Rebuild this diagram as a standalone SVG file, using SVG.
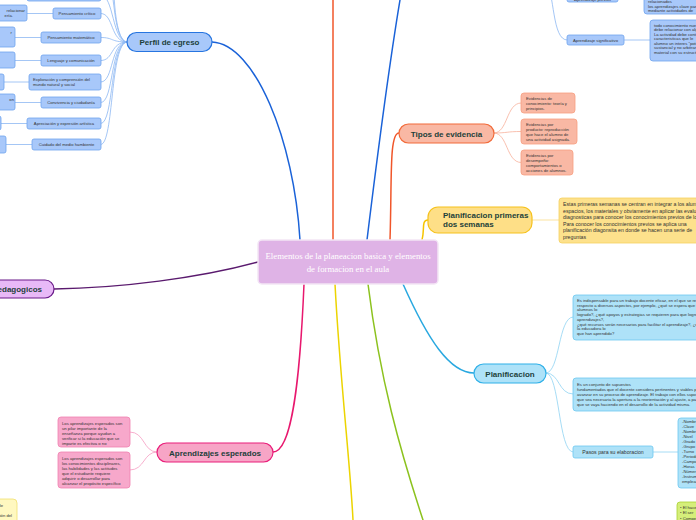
<svg xmlns="http://www.w3.org/2000/svg" width="696" height="520" viewBox="0 0 696 520">
<style>
.bg{fill:#ffffff}
.main{font-family:"Liberation Sans",Arial,sans-serif;font-weight:bold;font-size:8px;fill:#1d3f3a}
.sm{font-family:"Liberation Sans",Arial,sans-serif;font-size:4.2px;fill:#333333}
.md{font-family:"Liberation Sans",Arial,sans-serif;font-size:5.2px;fill:#333333}
.c{fill:none;stroke-linecap:round}
.blueN{fill:#a8c8fa;stroke:#2775e0;stroke-width:1.2}
.blueS{fill:#a8c8fa;stroke:#6fa3ee;stroke-width:0.8}
.blueC{stroke:#8db7f2;stroke-width:0.8}
.orN{fill:#f9b8a4;stroke:#f26b3a;stroke-width:1.2}
.orS{fill:#f9b8a4;stroke:#f8a080;stroke-width:0.8}
.orC{stroke:#f8b09a;stroke-width:0.8}
.yeN{fill:#fedf87;stroke:#f6c21d;stroke-width:1.2}
.yeS{fill:#fde18c;stroke:#f5d060;stroke-width:0.8}
.yeC{stroke:#fbe3a0;stroke-width:1}
.piN{fill:#f7a5c6;stroke:#e91e7a;stroke-width:1.2}
.piS{fill:#f7a8cb;stroke:#f080b0;stroke-width:0.8}
.piC{stroke:#f59cc2;stroke-width:0.8}
.cyN{fill:#aee2f8;stroke:#2fb0e8;stroke-width:1.2}
.cyS{fill:#aee2f8;stroke:#6cc8f0;stroke-width:0.8}
.cyC{stroke:#8fd3f3;stroke-width:0.8}
</style>
<rect class="bg" x="0" y="0" width="696" height="520"/>

<g id="connectors">
  <!-- main branches -->
  <path class="c" stroke="#1a62d8" stroke-width="1.5" d="M212,42 C255,44 294,140 300,240"/>
  <path class="c" stroke="#f0562a" stroke-width="1.5" d="M333,240 C333,160 333,80 333,0"/>
  <path class="c" stroke="#1a62d8" stroke-width="1.5" d="M367,240 C378,150 390,60 400,0"/>
  <path class="c" stroke="#f0562a" stroke-width="1.5" d="M390,240 C392,180 389,133 399,133"/>
  <path class="c" stroke="#f5c400" stroke-width="1.5" d="M422,240 C425,230 421,220 428,220"/>
  <path class="c" stroke="#5a1a6e" stroke-width="1.5" d="M258,262 C200,278 120,288 54,289"/>
  <path class="c" stroke="#e8186e" stroke-width="1.5" d="M304,284 C300,380 292,452 273,452"/>
  <path class="c" stroke="#ecd400" stroke-width="1.5" d="M335,284 C340,380 350,460 353,520"/>
  <path class="c" stroke="#8cc21e" stroke-width="1.5" d="M368,284 C380,380 400,450 423,520"/>
  <path class="c" stroke="#29a8e0" stroke-width="1.5" d="M403,284 C428,340 450,373 474,373"/>

  <!-- perfil children -->
  <path class="c blueC" d="M127,42 C112,42 114,-5 101,-5"/>
  <path class="c blueC" d="M127,42 C112,42 115,-20 108,-20"/>
  <path class="c blueC" d="M127,42 C112,42 114,-30 113,-30"/>
  <path class="c blueC" d="M127,42 C110,42 114,13.5 101,13.5"/>
  <path class="c blueC" d="M127,42 C110,42 114,37.5 101,37.5"/>
  <path class="c blueC" d="M127,42 C110,42 114,60.5 101,60.5"/>
  <path class="c blueC" d="M127,42 C110,42 114,82 101,82"/>
  <path class="c blueC" d="M127,42 C110,42 114,102.5 101,102.5"/>
  <path class="c blueC" d="M127,42 C110,42 114,123.5 101,123.5"/>
  <path class="c blueC" d="M127,42 C110,42 114,144.5 101,144.5"/>
  <!-- grandchildren -->
  <path class="c blueC" d="M27,13.5 L53,13.5"/>
  <path class="c blueC" d="M15,37.5 L41,37.5"/>
  <path class="c blueC" d="M15,60.5 L41,60.5"/>
  <path class="c blueC" d="M4,82 L29,82"/>
  <path class="c blueC" d="M15,102.5 L41,102.5"/>
  <path class="c blueC" d="M1,123.5 L27,123.5"/>
  <path class="c blueC" d="M6,144.5 L32,144.5"/>

  <!-- top right -->
  <path class="c blueC" d="M545,-25 C553,-10 552,-3 567,-3"/>
  <path class="c blueC" d="M545,-25 C555,-5 552,40 567,40"/>
  <path class="c blueC" d="M618,-3 L644,-3"/>
  <path class="c blueC" d="M624,40 L650,40"/>

  <!-- tipos children -->
  <path class="c orC" d="M494,133 C508,133 506,103 521,103"/>
  <path class="c orC" d="M494,133 C508,133 506,131.5 521,131.5"/>
  <path class="c orC" d="M494,133 C508,133 506,162.5 521,162.5"/>

  <!-- yellow child -->
  <path class="c yeC" d="M532,220 L559,220"/>

  <!-- planificacion children -->
  <path class="c cyC" d="M546,373 C560,373 558,317 573,317"/>
  <path class="c cyC" d="M546,373 C560,373 558,394 573,394"/>
  <path class="c cyC" d="M546,373 C560,373 558,452 573,452"/>
  <path class="c cyC" d="M653,452 L678,452"/>

  <!-- pink children -->
  <path class="c piC" d="M157,452 C143,452 145,432 130,432"/>
  <path class="c piC" d="M157,452 C143,452 145,470 130,470"/>
</g>

<g id="central">
  <rect x="258" y="240" width="180" height="44" rx="4" fill="#dfb3e6" stroke="#f3e6f5" stroke-width="1.5"/>
  <text x="348" y="259" text-anchor="middle" font-family="Liberation Serif,Times New Roman,serif" font-size="8.8" fill="#ffffff">Elementos de la planeacion basica y elementos</text>
  <text x="348" y="271.5" text-anchor="middle" font-family="Liberation Serif,Times New Roman,serif" font-size="8.8" fill="#ffffff">de formacion en el aula</text>
</g>

<g id="perfil-de-egreso">
  <rect class="blueN" x="127" y="32.5" width="85" height="19" rx="9.5"/>
  <text class="main" x="169.5" y="45" text-anchor="middle" font-size="8.2">Perfil de egreso</text>
</g>
<g id="perfil-top">
  <rect class="blueS" x="27" y="-12" width="74" height="13" rx="2"/>
</g>
<g id="pensamiento-critico">
  <rect class="blueS" x="53" y="8" width="48" height="11" rx="2"/>
  <text class="sm" x="77" y="15" text-anchor="middle">Pensamiento crítico</text>
</g>
<g id="pensamiento-matematico">
  <rect class="blueS" x="41" y="32" width="60" height="11" rx="2"/>
  <text class="sm" x="71" y="39" text-anchor="middle">Pensamiento matemático</text>
</g>
<g id="lenguaje">
  <rect class="blueS" x="41" y="55" width="60" height="11" rx="2"/>
  <text class="sm" x="71" y="62" text-anchor="middle">Lenguaje y comunicación</text>
</g>
<g id="exploracion">
  <rect class="blueS" x="29" y="74" width="72" height="16" rx="2"/>
  <text class="sm" x="33" y="80.5">Exploración y comprensión del</text>
  <text class="sm" x="33" y="85.5">mundo natural y social</text>
</g>
<g id="convivencia">
  <rect class="blueS" x="41" y="97" width="60" height="11" rx="2"/>
  <text class="sm" x="71" y="104" text-anchor="middle">Convivencia y ciudadanía</text>
</g>
<g id="apreciacion">
  <rect class="blueS" x="27" y="118" width="74" height="11" rx="2"/>
  <text class="sm" x="64" y="125" text-anchor="middle">Apreciación y expresión artística</text>
</g>
<g id="cuidado">
  <rect class="blueS" x="32" y="139" width="69" height="11" rx="2"/>
  <text class="sm" x="66.5" y="146" text-anchor="middle">Cuidado del medio hambiente</text>
</g>

<g id="gc1">
  <rect class="blueS" x="-60" y="5" width="87" height="16" rx="2"/>
  <text class="sm" x="25" y="12" text-anchor="end">relacionar</text>
  <text class="sm" x="13" y="17" text-anchor="end">ería.</text>
</g>
<g id="gc2">
  <rect class="blueS" x="-60" y="27" width="75" height="20" rx="2"/>
  <text class="sm" x="12" y="34" text-anchor="end">r</text>
</g>
<g id="gc3"><rect class="blueS" x="-60" y="52" width="75" height="16" rx="2"/></g>
<g id="gc4"><rect class="blueS" x="-60" y="74" width="64" height="16" rx="2"/></g>
<g id="gc5">
  <rect class="blueS" x="-60" y="94" width="75" height="16" rx="2"/>
  <text class="sm" x="14" y="101" text-anchor="end">on</text>
</g>
<g id="gc6"><rect class="blueS" x="-60" y="116" width="61" height="14" rx="2"/></g>
<g id="gc7"><rect class="blueS" x="-60" y="136" width="66" height="17" rx="2"/></g>

<g id="aprendizaje-previos">
  <rect class="blueS" x="567" y="-9" width="51" height="11" rx="2"/>
  <text class="sm" x="592.5" y="0.5" text-anchor="middle">Aprendizaje previos</text>
</g>
<g id="previos-detalle">
  <rect class="blueS" x="644" y="-20" width="70" height="34" rx="3"/>
  <text class="sm" x="648" y="3">relacionados</text>
  <text class="sm" x="648" y="7.5">los aprendizajes clave para</text>
  <text class="sm" x="648" y="12">mediante actividades de</text>
</g>
<g id="aprendizaje-significativo">
  <rect class="blueS" x="567" y="35" width="57" height="10" rx="2"/>
  <text class="sm" x="595.5" y="41.5" text-anchor="middle">Aprendizaje significativo</text>
</g>
<g id="significativo-detalle">
  <rect class="blueS" x="650" y="20" width="70" height="41" rx="3"/>
  <text class="sm" x="654" y="26.5">todo conocimiento nuevo se</text>
  <text class="sm" x="654" y="31">debe relacionar con algo</text>
  <text class="sm" x="654" y="35.5">La actividad debe contener</text>
  <text class="sm" x="654" y="40">caracteristicas que le</text>
  <text class="sm" x="654" y="44.5">alumno un interes "potencial"</text>
  <text class="sm" x="654" y="49">sustancial y no arbitrario</text>
  <text class="sm" x="654" y="53.5">material con su estructura</text>
</g>

<g id="tipos-de-evidencia">
  <rect class="orN" x="399" y="124" width="95" height="19" rx="9.5"/>
  <text class="main" x="446.5" y="136.5" text-anchor="middle">Tipos de evidencia</text>
</g>
<g id="evidencia-1">
  <rect class="orS" x="521" y="93" width="54" height="20" rx="3"/>
  <text class="sm" x="526" y="99.5">Evidencias de</text>
  <text class="sm" x="526" y="104.5">conocimiento: teoría y</text>
  <text class="sm" x="526" y="109.5">principios.</text>
</g>
<g id="evidencia-2">
  <rect class="orS" x="521" y="119" width="56" height="25" rx="3"/>
  <text class="sm" x="526" y="125.5">Evidencias por</text>
  <text class="sm" x="526" y="130.5">producto: reproducción</text>
  <text class="sm" x="526" y="135.5">que hace el alumno de</text>
  <text class="sm" x="526" y="140.5">una actividad asignada.</text>
</g>
<g id="evidencia-3">
  <rect class="orS" x="521" y="150" width="52" height="25" rx="3"/>
  <text class="sm" x="526" y="157">Evidencias por</text>
  <text class="sm" x="526" y="162">desempeño:</text>
  <text class="sm" x="526" y="167">comportamientos o</text>
  <text class="sm" x="526" y="172">acciones de alumnos.</text>
</g>

<g id="planificacion-primeras">
  <rect class="yeN" x="428" y="207" width="104" height="26" rx="10"/>
  <text class="main" x="443" y="218">Planificacion primeras</text>
  <text class="main" x="443" y="227">dos semanas</text>
</g>
<g id="primeras-detalle">
  <rect class="yeS" x="559" y="198" width="160" height="45" rx="3"/>
  <text class="md" x="563" y="206">Estas primeras semanas se centran en integrar a los alumnos con los</text>
  <text class="md" x="563" y="212.5">espacios, los materiales y obviamente en aplicar las evaluaciones</text>
  <text class="md" x="563" y="219">diagnosticas para conocer los conocimientos previos de los alumnos.</text>
  <text class="md" x="563" y="225.5">Para conocer los conocimientos previos se aplica una</text>
  <text class="md" x="563" y="232">planificación diagonsita en donde se hacen una serie de</text>
  <text class="md" x="563" y="238.5">preguntas</text>
</g>

<g id="planificacion">
  <rect class="cyN" x="474" y="364" width="72" height="19" rx="9.5"/>
  <text class="main" x="510" y="376.5" text-anchor="middle">Planificacion</text>
</g>
<g id="planificacion-1">
  <rect class="cyS" x="573" y="295" width="150" height="45" rx="3"/>
  <text class="sm" x="577" y="301.5">Es indispensable para un trabajo docente eficaz, en el que se reflexiona</text>
  <text class="sm" x="577" y="306.5">respecto a diversos aspectos, por ejemplo, ¿qué se espera que los</text>
  <text class="sm" x="577" y="311">alumnos lo</text>
  <text class="sm" x="577" y="316">logrado?, ¿qué apoyos y estrategias se requieren para que logren los</text>
  <text class="sm" x="577" y="320.5">aprendizajes?,</text>
  <text class="sm" x="577" y="325.5">¿qué recursos serán necesarios para facilitar el aprendizaje?, ¿cómo</text>
  <text class="sm" x="577" y="330">la educadora lo</text>
  <text class="sm" x="577" y="335">que han aprendido?</text>
</g>
<g id="planificacion-2">
  <rect class="cyS" x="573" y="378" width="150" height="33" rx="3"/>
  <text class="sm" x="577" y="385.5">Es un conjunto de supuestos</text>
  <text class="sm" x="577" y="390.5">fundamentados que el docente considera pertinentes y viables para</text>
  <text class="sm" x="577" y="395.5">avanzar en su proceso de aprendizaje. El trabajo con ellos supone</text>
  <text class="sm" x="577" y="400.5">que sea necesaria la apertura a la reorientación y al ajuste, a partir</text>
  <text class="sm" x="577" y="405.5">que se vaya haciendo en el desarrollo de la actividad misma.</text>
</g>
<g id="pasos">
  <rect class="cyS" x="573" y="446" width="80" height="12" rx="2"/>
  <text class="md" x="613" y="453.8" text-anchor="middle">Pasos para su elaboracion</text>
</g>
<g id="pasos-lista">
  <rect class="cyS" x="678" y="418" width="60" height="70" rx="3"/>
  <text class="sm" x="682" y="423">-Nombre de la escuela</text>
  <text class="sm" x="682" y="428">-Clave</text>
  <text class="sm" x="682" y="433">-Nombre de la educadora</text>
  <text class="sm" x="682" y="438">-Nivel</text>
  <text class="sm" x="682" y="443">-Grado</text>
  <text class="sm" x="682" y="448">-Grupo</text>
  <text class="sm" x="682" y="453">-Turno</text>
  <text class="sm" x="682" y="458">-Periodo</text>
  <text class="sm" x="682" y="463">-Campo formativo</text>
  <text class="sm" x="682" y="468">-Horas</text>
  <text class="sm" x="682" y="473">-Número de alumnos</text>
  <text class="sm" x="682" y="478">-Instrumentos a</text>
  <text class="sm" x="682" y="483">emplear</text>
</g>

<g id="verde">
  <rect x="677" y="502" width="60" height="30" rx="3" fill="#d5ee7a" stroke="#a8d030" stroke-width="0.8"/>
  <text class="sm" x="680" y="508.5">• El hacer</text>
  <text class="sm" x="680" y="514">• El ser</text>
  <text class="sm" x="680" y="519.5">• Competencias</text>
</g>

<g id="aprendizajes-esperados">
  <rect class="piN" x="157" y="443" width="116" height="19" rx="9.5"/>
  <text class="main" x="215" y="455.5" text-anchor="middle">Aprendizajes esperados</text>
</g>
<g id="esperados-1">
  <rect class="piS" x="58" y="417" width="72" height="30" rx="3"/>
  <text class="sm" x="62" y="424.5">Los aprendizajes esperados son</text>
  <text class="sm" x="62" y="429.5">un pilar importante de la</text>
  <text class="sm" x="62" y="434.8">enseñanza porque ayudan a</text>
  <text class="sm" x="62" y="440">verificar si la educación que se</text>
  <text class="sm" x="62" y="445">imparte es efectiva o no</text>
</g>
<g id="esperados-2">
  <rect class="piS" x="58" y="452" width="72" height="36" rx="3"/>
  <text class="sm" x="62" y="459.5">Los aprendizajes esperados son</text>
  <text class="sm" x="62" y="464.5">los conocimientos disciplinares,</text>
  <text class="sm" x="62" y="469.5">las habilidades y las actitudes</text>
  <text class="sm" x="62" y="474.5">que el estudiante requiere</text>
  <text class="sm" x="62" y="480">adquirir o desarrollar para</text>
  <text class="sm" x="62" y="485">alcanzar el propósito específico</text>
</g>

<g id="recursos-pedagogicos">
  <rect x="-60" y="280" width="114" height="18" rx="9" fill="#e8b9f7" stroke="#6a1b8a" stroke-width="1.2"/>
  <text class="main" x="42" y="292" text-anchor="end">Recursos pedagogicos</text>
</g>

<g id="amarillo-izq">
  <rect x="-40" y="499" width="57" height="30" rx="4" fill="#fff8c0" stroke="#f0e070" stroke-width="0.8"/>
  <text class="sm" x="3" y="507" text-anchor="end">de</text>
  <text class="sm" x="12" y="516.5" text-anchor="end">Evaluación del</text>
</g>
</svg>
